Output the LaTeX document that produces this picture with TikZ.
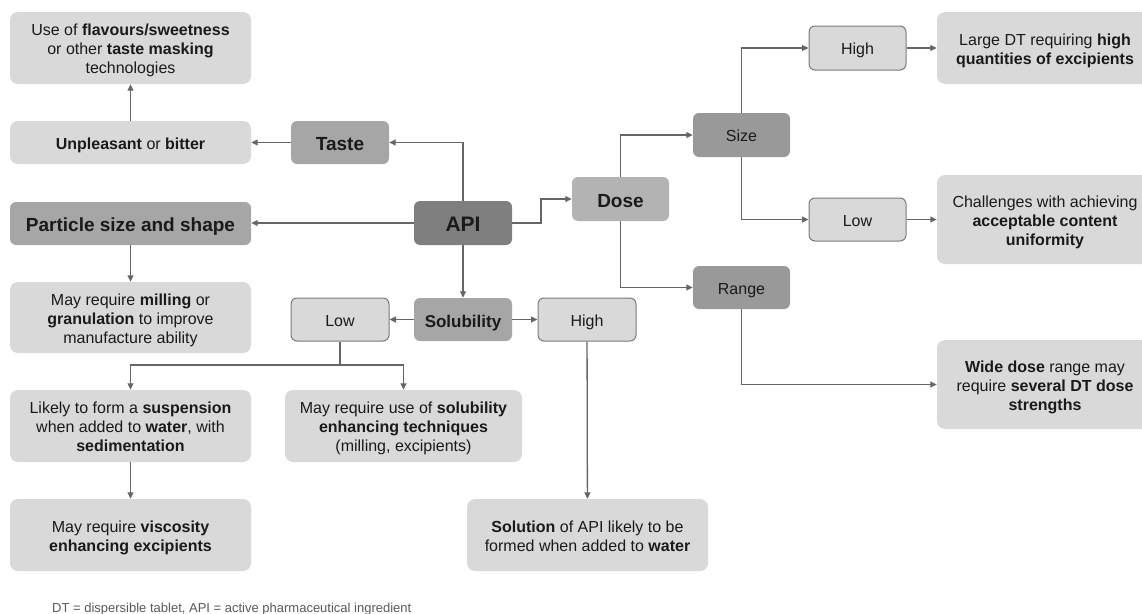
\documentclass[tikz,border=0pt]{standalone}
\usepackage{fontspec}
\setmainfont{Liberation Sans}
\usetikzlibrary{arrows.meta}
\definecolor{cLight}{HTML}{D9D9D9}
\definecolor{cMid}{HTML}{A6A6A6}
\definecolor{cSizeG}{HTML}{999999}
\definecolor{cDark}{HTML}{7F7F7F}
\definecolor{cDose}{HTML}{B3B3B3}
\definecolor{cLine}{HTML}{666666}
\definecolor{cBorder}{HTML}{7A7A7A}
\definecolor{cText}{HTML}{1A1A1A}
\definecolor{cFoot}{HTML}{595959}
\newcommand{\topstr}{\rule{0pt}{17pt}}
\newcommand{\botstr}{\rule[-3.5pt]{0pt}{0pt}}
\tikzset{
  x=1pt, y=-1pt,
  wh/.style 2 args={minimum width=#1pt, minimum height=#2pt},
  struts/.style 2 args={execute at begin node={\rule{0pt}{#1}}, execute at end node={\rule[-#2]{0pt}{0pt}}},
  box/.style={rounded corners=8pt, fill=cLight, align=center, inner sep=0pt, text=cText,
    font=\fontsize{16}{19}\selectfont, struts={17pt}{3.5pt}},
  head/.style={rounded corners=6pt, align=center, inner sep=0pt, text=cText,
    font=\fontsize{19}{22}\bfseries\selectfont, struts={20.5pt}{4pt}},
  sub/.style={rounded corners=6pt, align=center, inner sep=0pt, text=cText,
    font=\fontsize{16}{19}\selectfont, struts={17pt}{3.5pt}},
  outl/.style={sub, fill=cLight, draw=cBorder, line width=1pt},
  arr/.style={draw=cLine, line width=1.3pt, -{Triangle[length=6.5pt,width=6pt]}},
  ln/.style={draw=cLine, line width=1.3pt},
}
\begin{document}
\begin{tikzpicture}
\useasboundingbox (0,0) rectangle (1142,613);
\clip (0,0) rectangle (1142,613);
% left column
\node[box, wh={241}{72}] (flav) at (130.5,48) {\topstr Use of \textbf{flavours/sweetness}\\or other \textbf{taste masking}\\technologies\botstr};
\node[box, wh={241}{43}] (unpl) at (130.5,142.5) {\textbf{Unpleasant} or \textbf{bitter}};
\node[head, fill=cMid, wh={98}{43}] (taste) at (340,142.5) {Taste};
\node[head, fill=cMid, wh={241}{43}] (part) at (130.5,223.5) {Particle size and shape};
\node[head, fill=cDark, wh={98}{44}, font=\fontsize{21}{24}\bfseries\selectfont, struts={22pt}{4.5pt}] (api) at (463,223) {API};
\node[head, fill=cDose, wh={97}{44}] (dose) at (620.5,199) {Dose};
\node[sub, fill=cSizeG, wh={97}{44}] (size) at (741.5,135) {Size};
\node[sub, fill=cSizeG, wh={97}{43}] (range) at (741.5,287.5) {Range};
\node[outl, wh={97}{44}] (hiT) at (857.5,48) {High};
\node[outl, wh={97}{43}] (loR) at (857.5,219.5) {Low};
\node[box, wh={216}{72}] (large) at (1045,48) {\topstr Large DT requiring \textbf{high}\\\textbf{quantities of excipients}\botstr};
\node[box, wh={216}{89}] (chall) at (1045,219.5) {\topstr Challenges with achieving\\\textbf{acceptable content}\\\textbf{uniformity}\botstr};
\node[box, wh={216}{89}] (wide) at (1045,384.5) {\topstr\textbf{Wide dose} range may\\require \textbf{several DT dose}\\\textbf{strengths}\botstr};
\node[box, wh={241}{71}] (mill) at (130.5,317.5) {\topstr May require \textbf{milling} or\\\textbf{granulation} to improve\\manufacture ability\botstr};
\node[outl, wh={98}{43}] (loS) at (340,319.5) {Low};
\node[head, fill=cMid, wh={98}{43}, font=\fontsize{17}{20}\bfseries\selectfont, struts={18.5pt}{4pt}] (sol) at (463,319.5) {Solubility};
\node[outl, wh={98}{43}] (hiS) at (587,319.5) {High};
\node[box, wh={241}{72}] (susp) at (130.5,426) {\topstr Likely to form a \textbf{suspension}\\when added to \textbf{water}, with\\\textbf{sedimentation}\botstr};
\node[box, wh={237}{72}] (solen) at (403.5,426) {\topstr May require use of \textbf{solubility}\\\textbf{enhancing techniques}\\(milling, excipients)\botstr};
\node[box, wh={241}{72}] (visc) at (130.5,535) {\topstr May require \textbf{viscosity}\\\textbf{enhancing excipients}\botstr};
\node[box, wh={241}{72}] (solut) at (587.5,535) {\topstr\textbf{Solution} of API likely to be\\formed when added to \textbf{water}\botstr};
\node[anchor=base west, inner sep=0pt, text=cFoot, font=\fontsize{13}{15}\selectfont] (foot) at (52,612) {DT = dispersible tablet, API = active pharmaceutical ingredient};
% connectors
\coordinate (lsplit) at (340,365);
\coordinate (ad) at (541,223);
\draw[arr] (api.north) |- (taste.east);
\draw[arr] (taste) -- (unpl);
\draw[arr] (unpl) -- (flav);
\draw[arr] (api.west) -- (part.east |- api.west);
\draw[arr] (part) -- (mill);
\draw[arr] (api) -- (sol);
\draw[arr] (sol) -- (loS);
\draw[arr] (sol) -- (hiS);
\draw[ln] (loS.south) -- (lsplit);
\draw[arr] (lsplit) -| (susp.north);
\draw[arr] (lsplit) -| (solen.north);
\draw[arr] (susp) -- (visc);
\draw[arr] (hiS) -- (solut);
\draw[arr] (api.east) -- (ad) |- (dose.west);
\draw[arr] (dose.north) |- (size.west);
\draw[arr] (dose.south) |- (range.west);
\draw[arr] (size.north) |- (hiT.west);
\draw[arr] (size.south) |- (loR.west);
\draw[arr] (hiT) -- (large);
\draw[arr] (loR) -- (chall);
\draw[arr] (range.south) |- (wide.west);
\end{tikzpicture}
\end{document}
